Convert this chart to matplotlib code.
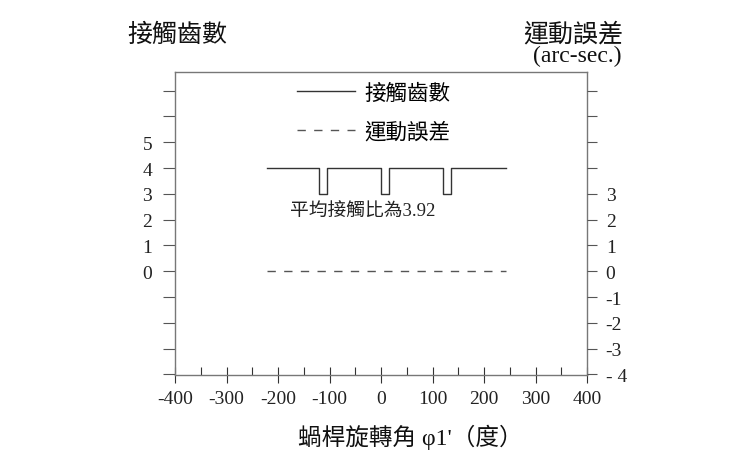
import matplotlib
matplotlib.use("Agg")
import matplotlib.pyplot as plt
import matplotlib.ticker as mticker

plt.rcParams['font.family'] = ['Liberation Serif', 'Noto Sans CJK TC']

# --- data ---
# 接觸齒數: step curve vs worm rotation angle (deg)
contact_x = [-222, -120, -120, -104, -104, 0, 0, 16, 16, 120, 120, 136, 136, 242]
contact_y = [4, 4, 3, 3, 4, 4, 3, 3, 4, 4, 3, 3, 4, 4]
# 運動誤差 (arc-sec.)
error_x = [-222, 242]
error_y = [0, 0]

x_ticks = [-400, -300, -200, -100, 0, 100, 200, 300, 400]
left_ticks = [-4, -3, -2, -1, 0, 1, 2, 3, 4, 5, 6, 7]
left_labels = ['', '', '', '', '0', '1', '2', '3', '4', '5', '', '']
right_ticks = [-4, -3, -2, -1, 0, 1, 2, 3, 4, 5, 6, 7]
right_labels = ['- 4', '-3', '-2', '-1', '0', '1', '2', '3', '', '', '', '']

W, H = 745, 456
fig = plt.figure(figsize=(W / 100, H / 100), dpi=100)
ax = fig.add_axes([175 / W, 1 - 376 / H, 412 / W, 303 / H])
ax2 = ax.twinx()

ax.set_xlim(-400, 400)
ax.set_ylim(-4.02, 7.72)
ax2.set_ylim(-4.02, 7.72)

line_col = '#333333'
l1, = ax.plot(contact_x, contact_y, color=line_col, lw=1.0, label='接觸齒數')
l2, = ax2.plot(error_x, error_y, color='#555555', lw=1.0, ls=(0, (6, 6)), label='運動誤差')

for s in ax.spines.values():
    s.set_color('#777777')
    s.set_linewidth(1.0)
ax2.spines[:].set_visible(False)

ax.xaxis.set_major_locator(mticker.FixedLocator(x_ticks))
ax.xaxis.set_minor_locator(mticker.MultipleLocator(50))
ax.tick_params(axis='x', which='major', direction='inout', length=12, width=0.8,
               color='#333333', labelsize=14, pad=5)
ax.tick_params(axis='x', which='minor', direction='in', length=6, width=0.8, color='#333333')
ax.set_xticklabels([str(v) for v in x_ticks])

ax.set_yticks(left_ticks)
ax.set_yticklabels(left_labels)
ax.tick_params(axis='y', direction='out', length=8.5, width=0.8, color='#555555',
               labelsize=14, pad=8)

ax2.set_yticks(right_ticks)
ax2.set_yticklabels(right_labels)
ax2.tick_params(axis='y', direction='out', length=7.5, width=0.8, color='#555555',
                labelsize=14, pad=6)

for lab in ax.get_xticklabels() + ax.get_yticklabels() + ax2.get_yticklabels():
    lab.set_color('#222222')

ax.legend(handles=[l1, l2], loc='upper left', bbox_to_anchor=(0.248, 1.025),
          frameon=False, fontsize=15.5, handlelength=2.7, handletextpad=0.45,
          labelspacing=0.85)

ax.text(-36, 2.34, '平均接觸比為3.92', fontsize=13.5, ha='center', va='center',
        color='#222222')

fig.text(127 / W, 1 - 35 / H, '接觸齒數', fontsize=18, ha='left', va='center', color='#111111')
fig.text(623 / W, 1 - 35 / H, '運動誤差', fontsize=18, ha='right', va='center', color='#111111')
fig.text(622 / W, 1 - 56 / H, '(arc-sec.)', fontsize=17, ha='right', va='center', color='#111111')
fig.text(410 / W, 1 - 437 / H, "蝸桿旋轉角 φ1'（度）", fontsize=17, ha='center', va='center',
         color='#111111')

fig.savefig('out.png', dpi=100)
